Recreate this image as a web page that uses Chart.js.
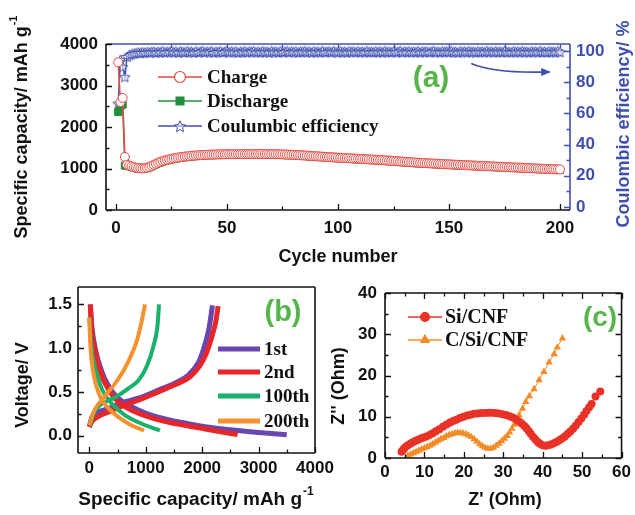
<!DOCTYPE html>
<html>
<head>
<meta charset="utf-8">
<script src="https://cdn.jsdelivr.net/npm/chart.js@4.4.0/dist/chart.umd.min.js"></script>
<style>
  body { margin: 0; background: #fff; width: 635px; height: 515px; position: relative; overflow: hidden; }
  canvas { position: absolute; }
  #ca { left: 0; top: 0; }
  #cb { left: 0; top: 270px; }
  #cc { left: 330px; top: 270px; }
</style>
</head>
<body>
<canvas id="ca" width="635" height="270"></canvas>
<canvas id="cb" width="345" height="245"></canvas>
<canvas id="cc" width="305" height="245"></canvas>
<script>
// ---- (a) cycling ----
const cycles = Array.from({ length: 200 }, (_, i) => i + 1);
const charge = [
  3560, 2600, 2700, 1280, 1090, 1070, 1050, 1035, 1020, 1010,
  1005, 1002, 1008, 1020, 1040, 1065, 1090, 1115, 1140, 1160,
  1178, 1195, 1210, 1222, 1234, 1245, 1255, 1264, 1272, 1280,
  1287, 1293, 1299, 1304, 1309, 1313, 1317, 1321, 1324, 1327,
  1330, 1332, 1334, 1336, 1338, 1339, 1341, 1342, 1343, 1344,
  1345, 1346, 1346, 1347, 1347, 1348, 1348, 1348, 1349, 1349,
  1349, 1349, 1349, 1349, 1348, 1348, 1348, 1347, 1347, 1346,
  1345, 1344, 1343, 1342, 1340, 1338, 1336, 1334, 1331, 1328,
  1325, 1322, 1319, 1316, 1313, 1310, 1306, 1303, 1299, 1296,
  1292, 1289, 1285, 1282, 1278, 1275, 1271, 1268, 1264, 1261,
  1258, 1255, 1252, 1249, 1246, 1243, 1240, 1237, 1234, 1231,
  1228, 1225, 1222, 1219, 1216, 1213, 1210, 1207, 1204, 1200,
  1197, 1193, 1189, 1185, 1181, 1177, 1173, 1169, 1165, 1161,
  1157, 1154, 1150, 1147, 1143, 1140, 1137, 1134, 1131, 1128,
  1125, 1122, 1119, 1116, 1113, 1110, 1107, 1104, 1102, 1099,
  1096, 1094, 1091, 1089, 1086, 1084, 1081, 1079, 1076, 1074,
  1071, 1069, 1066, 1064, 1061, 1059, 1056, 1054, 1051, 1049,
  1046, 1044, 1041, 1039, 1036, 1034, 1031, 1029, 1026, 1024,
  1021, 1019, 1016, 1014, 1011, 1009, 1006, 1004, 1001, 999,
  996, 994, 991, 989, 987, 985, 983, 981, 979, 977
];
const discharge = [
  2360, 2500, 2540, 1070, 1065, 1058, 1038, 1022, 1008, 998,
  993, 991, 996, 1008, 1028, 1053, 1078, 1103, 1128, 1148,
  1166, 1183, 1198, 1210, 1222, 1233, 1243, 1252, 1260, 1268,
  1275, 1281, 1287, 1292, 1297, 1301, 1305, 1309, 1312, 1315,
  1318, 1320, 1322, 1324, 1326, 1327, 1329, 1330, 1331, 1332,
  1333, 1334, 1334, 1335, 1335, 1336, 1336, 1336, 1337, 1337,
  1337, 1337, 1337, 1337, 1336, 1336, 1336, 1335, 1335, 1334,
  1333, 1332, 1331, 1330, 1328, 1326, 1324, 1322, 1319, 1316,
  1313, 1310, 1307, 1304, 1301, 1298, 1294, 1291, 1287, 1284,
  1280, 1277, 1273, 1270, 1266, 1263, 1259, 1256, 1252, 1249,
  1246, 1243, 1240, 1237, 1234, 1231, 1228, 1225, 1222, 1219,
  1216, 1213, 1210, 1207, 1204, 1201, 1198, 1195, 1192, 1188,
  1185, 1181, 1177, 1173, 1169, 1165, 1161, 1157, 1153, 1149,
  1145, 1142, 1138, 1135, 1131, 1128, 1125, 1122, 1119, 1116,
  1113, 1110, 1107, 1104, 1101, 1098, 1095, 1092, 1090, 1087,
  1084, 1082, 1079, 1077, 1074, 1072, 1069, 1067, 1064, 1062,
  1059, 1057, 1054, 1052, 1049, 1047, 1044, 1042, 1039, 1037,
  1034, 1032, 1029, 1027, 1024, 1022, 1019, 1017, 1014, 1012,
  1009, 1007, 1004, 1002, 999, 997, 994, 992, 989, 987,
  984, 982, 979, 977, 975, 973, 971, 969, 967, 965
];
const coulombic = [
  66.5, 94.5, 90.0, 83.5, 96.5, 97.6, 98.2, 98.6, 98.9, 99.2,
  99.0, 99.4, 99.1, 99.6, 99.3, 99.5, 99.8, 99.2, 99.7, 99.4,
  100.1, 99.3, 99.8, 99.5, 100.2, 99.4, 99.9, 99.2, 100.0, 99.6,
  99.3, 100.1, 99.5, 99.8, 99.2, 100.0, 99.4, 99.7, 100.2, 99.3,
  99.9, 99.5, 100.1, 99.2, 99.8, 99.6, 100.0, 99.3, 99.7, 100.2,
  99.4, 99.9, 99.5, 100.0, 99.2, 99.8, 99.5, 100.1, 99.3, 99.9,
  99.6, 100.2, 99.4, 99.8, 99.3, 100.0, 99.5, 99.8, 99.2, 100.1,
  99.6, 99.9, 99.3, 100.0, 99.5, 99.7, 100.2, 99.4, 99.9, 99.5,
  100.0, 99.3, 99.8, 99.6, 100.1, 99.4, 99.9, 99.2, 100.0, 99.6,
  99.8, 99.3, 100.2, 99.5, 99.7, 99.9, 99.4, 100.1, 99.6, 99.3,
  100.0, 99.5, 99.8, 99.2, 100.1, 99.6, 99.9, 99.4, 100.0, 99.5,
  99.8, 99.3, 100.2, 99.6, 99.7, 99.4, 100.0, 99.5, 99.9, 99.3,
  100.1, 99.6, 99.8, 99.4, 100.0, 99.5, 99.7, 100.2, 99.3, 99.9,
  99.6, 100.0, 99.4, 99.8, 99.5, 100.1, 99.3, 99.9, 99.6, 100.0,
  99.4, 99.7, 100.2, 99.5, 99.8, 99.3, 100.0, 99.6, 99.9, 99.4,
  100.1, 99.5, 99.8, 99.2, 100.0, 99.6, 99.9, 99.4, 100.1, 99.5,
  99.7, 99.3, 100.0, 99.6, 99.8, 99.4, 100.2, 99.5, 99.9, 99.3,
  100.0, 99.6, 99.8, 99.4, 100.1, 99.5, 99.7, 99.3, 100.0, 99.6,
  99.9, 99.4, 100.1, 99.5, 99.8, 99.3, 100.0, 99.6, 99.9, 99.4,
  100.2, 99.5, 99.7, 99.3, 100.0, 99.6, 99.8, 99.4, 100.1, 99.5
];
const cycleTicks = [0, 50, 100, 150, 200];
const capTicks = [0, 1000, 2000, 3000, 4000];
const ceTicks = [0, 20, 40, 60, 80, 100];

// ---- (b) voltage profiles: [capacity, voltage] ----
const bLabels = ['1st', '2nd', '100th', '200th'];
const dis1st = [[18, 1.5], [45, 1.25], [118, 0.96], [223, 0.73], [330, 0.58], [488, 0.44], [694, 0.35], [1017, 0.25], [1340, 0.19], [1752, 0.135], [2046, 0.1], [2500, 0.065], [3000, 0.035], [3500, 0.01]];
const chg1st = [[0, 0.1], [47, 0.21], [165, 0.27], [341, 0.31], [635, 0.385], [929, 0.44], [1223, 0.52], [1517, 0.6], [1752, 0.69], [1929, 0.83], [2030, 1.0], [2120, 1.22], [2183, 1.49]];
const dis2nd = [[18, 1.5], [42, 1.22], [105, 0.96], [200, 0.72], [294, 0.58], [488, 0.4], [782, 0.28], [1282, 0.17], [2017, 0.08], [2350, 0.04], [2630, 0.01]];
const chg2nd = [[0, 0.1], [47, 0.16], [165, 0.22], [341, 0.27], [635, 0.35], [929, 0.42], [1223, 0.5], [1517, 0.58], [1780, 0.67], [1960, 0.8], [2080, 0.95], [2180, 1.15], [2240, 1.3], [2283, 1.48]];
const dis100th = [[0, 1.35], [40, 1.0], [106, 0.77], [194, 0.58], [282, 0.46], [420, 0.35], [635, 0.23], [929, 0.135], [1253, 0.058]];
const chg100th = [[18, 0.115], [76, 0.25], [194, 0.35], [341, 0.4], [517, 0.46], [694, 0.54], [870, 0.63], [1017, 0.79], [1135, 1.02], [1211, 1.27], [1235, 1.5]];
const dis200th = [[0, 1.35], [18, 1.04], [59, 0.77], [118, 0.58], [212, 0.42], [341, 0.31], [517, 0.21], [753, 0.115], [970, 0.058]];
const chg200th = [[0, 0.115], [76, 0.27], [194, 0.385], [341, 0.5], [517, 0.65], [694, 0.85], [841, 1.08], [929, 1.31], [988, 1.5]];
const qTicks = [0, 1000, 2000, 3000, 4000];
const vTicks = [0, 0.5, 1.0, 1.5];

// ---- (c) Nyquist: [Z', Z''] ----
const cLabels = ['Si/CNF', 'C/Si/CNF'];
const siCNF = [
  [4.2, 1.5], [4.6, 2.0], [5.0, 2.5], [5.5, 2.9], [6.0, 3.2], [6.6, 3.6], [7.2, 3.9], [7.8, 4.2], [8.4, 4.4],
  [9.1, 4.7], [9.8, 5.0], [10.5, 5.2], [11.3, 5.6], [12.1, 6.0], [12.9, 6.5], [13.8, 7.0], [14.7, 7.6], [15.6, 8.1],
  [16.5, 8.6], [17.3, 9.0], [18.1, 9.3], [19.0, 9.7], [19.9, 10.0], [20.8, 10.3], [21.7, 10.5], [22.6, 10.7],
  [23.5, 10.8], [24.4, 10.9], [25.3, 10.9], [26.2, 11.0], [27.1, 11.0], [28.0, 10.9], [28.9, 10.8], [29.8, 10.6],
  [30.7, 10.4], [31.6, 10.1], [32.4, 9.8], [33.2, 9.4], [33.9, 8.9], [34.6, 8.4], [35.3, 7.8], [35.9, 7.2],
  [36.5, 6.5], [37.0, 5.8], [37.6, 5.1], [38.2, 4.4], [38.8, 3.8], [39.4, 3.4], [40.0, 3.1], [40.7, 3.0],
  [41.4, 3.1], [42.1, 3.3], [42.8, 3.6], [43.5, 3.9], [44.2, 4.3], [44.9, 4.7], [45.6, 5.2], [46.3, 5.8],
  [47.0, 6.4], [47.7, 7.1], [48.4, 7.9], [49.1, 8.7], [49.8, 9.6], [50.5, 10.5], [51.1, 11.4], [51.8, 12.3],
  [52.4, 13.1], [53.4, 14.9], [54.6, 16.1]
];
const cSiCNF = [
  [5.8, 0.6], [6.5, 0.9], [7.2, 1.2], [7.9, 1.5], [8.6, 1.8], [9.3, 2.1], [10.0, 2.4], [10.7, 2.7], [11.4, 3.0],
  [12.1, 3.4], [12.8, 3.8], [13.5, 4.2], [14.2, 4.6], [14.9, 4.9], [15.6, 5.3], [16.3, 5.6], [17.0, 5.8],
  [17.7, 6.0], [18.4, 6.1], [19.1, 6.1], [19.8, 6.0], [20.5, 5.8], [21.2, 5.5], [21.9, 5.1], [22.6, 4.6],
  [23.3, 4.0], [24.0, 3.4], [24.7, 2.9], [25.4, 2.5], [26.1, 2.3], [26.8, 2.3], [27.5, 2.5], [28.2, 3.0],
  [28.9, 3.5], [29.6, 4.1], [30.3, 4.7], [31.0, 5.4], [31.6, 6.2], [32.2, 7.1], [32.8, 8.1], [33.4, 9.2],
  [34.0, 10.4], [34.9, 12.0], [35.7, 13.6], [36.6, 15.0], [37.8, 16.7], [39.1, 18.9], [40.3, 20.9],
  [41.6, 23.2], [42.9, 25.2], [43.7, 26.8], [45.0, 29.0]
];
const zreTicks = [0, 10, 20, 30, 40, 50, 60];
const zimTicks = [0, 10, 20, 30, 40];

// ---- styles ----
Chart.defaults.font.family = '"Liberation Sans", Arial, sans-serif';
Chart.defaults.font.weight = 'bold';
Chart.defaults.font.size = 17;
Chart.defaults.color = '#111';
Chart.defaults.animation = false;

const SANS = '"Liberation Sans", Arial, sans-serif';
const SERIF = '"Liberation Serif", "Times New Roman", serif';
const BLUE = '#3f4fae';
const TAG = '#55b54a';

const pts = (xs, ys) => xs.map((x, i) => ({ x: x, y: ys[i] }));
const pairs = a => a.map(p => ({ x: p[0], y: p[1] }));
const range = (a, b, s) => { const r = []; for (let v = a; v <= b + 1e-9; v += s) r.push(+v.toFixed(4)); return r; };

function starImage(r, color) {
  const c = document.createElement('canvas');
  const s = Math.ceil(r * 2 + 4);
  c.width = c.height = s;
  const g = c.getContext('2d');
  g.translate(s / 2, s / 2 + 0.8);
  g.beginPath();
  for (let i = 0; i < 10; i++) {
    const a = -Math.PI / 2 + i * Math.PI / 5;
    const rr = i % 2 ? r * 0.45 : r;
    g.lineTo(rr * Math.cos(a), rr * Math.sin(a));
  }
  g.closePath();
  g.fillStyle = 'rgba(255,255,255,0.5)';
  g.fill();
  g.strokeStyle = color;
  g.lineWidth = 1;
  g.stroke();
  return c;
}
const star = starImage(5.5, BLUE);
const starBig = starImage(6, BLUE);

function linScale(min, max, ticks, opts) {
  return Object.assign({
    type: 'linear', min: min, max: max,
    grid: { display: false, drawTicks: false },
    border: { display: false },
    ticks: { autoSkip: false, maxRotation: 0, padding: 6, callback: v => String(v) },
    afterBuildTicks: s => { s.ticks = ticks.map(v => ({ value: v })); }
  }, opts);
}

function tickMarks(chart, id, values, len, sides, color) {
  const s = chart.scales[id], a = chart.chartArea, ctx = chart.ctx;
  ctx.save();
  ctx.strokeStyle = color;
  ctx.lineWidth = 1.3;
  ctx.beginPath();
  values.forEach(v => {
    const p = Math.round(s.getPixelForValue(v)) + 0.5;
    sides.forEach(side => {
      if (side === 'bottom') { ctx.moveTo(p, a.bottom); ctx.lineTo(p, a.bottom - len); }
      if (side === 'top') { ctx.moveTo(p, a.top); ctx.lineTo(p, a.top + len); }
      if (side === 'left') { ctx.moveTo(a.left, p); ctx.lineTo(a.left + len, p); }
      if (side === 'right') { ctx.moveTo(a.right, p); ctx.lineTo(a.right - len, p); }
    });
  });
  ctx.stroke();
  ctx.restore();
}

function frame(chart, colors) {
  const a = chart.chartArea, ctx = chart.ctx;
  const seg = (c, x1, y1, x2, y2) => { ctx.strokeStyle = c; ctx.beginPath(); ctx.moveTo(x1, y1); ctx.lineTo(x2, y2); ctx.stroke(); };
  ctx.save();
  ctx.lineWidth = 1.6;
  seg(colors.top, a.left, a.top, a.right, a.top);
  seg(colors.right, a.right, a.top, a.right, a.bottom);
  seg(colors.bottom, a.left, a.bottom, a.right, a.bottom);
  seg(colors.left, a.left, a.top, a.left, a.bottom);
  ctx.restore();
}

function title(ctx, x, y, rot, text, sup, size, color) {
  ctx.save();
  ctx.translate(x, y);
  ctx.rotate(rot);
  ctx.fillStyle = color;
  ctx.textBaseline = 'middle';
  ctx.textAlign = 'left';
  const f = 'bold ' + size + 'px ' + SANS;
  const fs = 'bold ' + Math.round(size * 0.62) + 'px ' + SANS;
  ctx.font = f;
  const w1 = ctx.measureText(text).width;
  ctx.font = fs;
  const w2 = sup ? ctx.measureText(sup).width + 1 : 0;
  const x0 = -(w1 + w2) / 2;
  ctx.font = f;
  ctx.fillText(text, x0, 0);
  if (sup) { ctx.font = fs; ctx.fillText(sup, x0 + w1 + 1, -size * 0.45); }
  ctx.restore();
}

function tag(ctx, text, x, y, size) {
  ctx.save();
  ctx.font = 'bold ' + size + 'px ' + SANS;
  ctx.fillStyle = TAG;
  ctx.textAlign = 'center';
  ctx.textBaseline = 'middle';
  ctx.fillText(text, x, y);
  ctx.restore();
}

// legend row: line + optional marker + serif text
function legendRow(ctx, ds, x1, x2, y, tx, size, lw) {
  ctx.save();
  ctx.strokeStyle = ds.borderColor;
  ctx.lineWidth = lw;
  ctx.beginPath(); ctx.moveTo(x1, y); ctx.lineTo(x2, y); ctx.stroke();
  if (ds.pointStyle && ds.legendRadius) {
    ctx.fillStyle = ds.pointBackgroundColor;
    ctx.strokeStyle = ds.pointBorderColor;
    ctx.lineWidth = 1.2;
    Chart.helpers.drawPoint(ctx, { pointStyle: ds.legendStyle || ds.pointStyle, radius: ds.legendRadius, rotation: 0, borderWidth: 1.2 }, (x1 + x2) / 2, y);
  }
  ctx.fillStyle = '#111';
  ctx.font = 'bold ' + size + 'px ' + SERIF;
  ctx.textBaseline = 'middle';
  ctx.fillText(ds.label, tx, y + 1);
  ctx.restore();
}

// ================= panel (a) =================
new Chart(document.getElementById('ca'), {
  type: 'line',
  data: {
    datasets: [
      {
        label: 'Charge', data: pts(cycles, charge), yAxisID: 'y',
        borderColor: '#e8473f', borderWidth: 1.5,
        pointStyle: 'circle', pointRadius: 4.5, pointBorderWidth: 1,
        pointBackgroundColor: '#fff', pointBorderColor: '#e8473f', legendRadius: 5.5
      },
      {
        label: 'Discharge', data: pts(cycles, discharge), yAxisID: 'y',
        borderColor: '#1f8f3c', borderWidth: 1.5,
        pointStyle: 'rect', pointRadius: 5, pointBorderWidth: 1,
        pointBackgroundColor: '#1f8f3c', pointBorderColor: '#1f8f3c', legendRadius: 5.5
      },
      {
        label: 'Coulumbic efficiency', data: pts(cycles, coulombic), yAxisID: 'y1',
        borderColor: BLUE, borderWidth: 1.5,
        pointStyle: star, pointRadius: 5, legendStyle: starBig,
        pointBackgroundColor: BLUE, pointBorderColor: BLUE, legendRadius: 6
      }
    ]
  },
  options: {
    responsive: false,
    layout: { padding: { top: 44, left: 0, right: 0, bottom: 0 } },
    plugins: { legend: { display: false }, tooltip: { enabled: false } },
    scales: {
      x: linScale(-4.5, 204.5, cycleTicks, { ticks: { autoSkip: false, maxRotation: 0, padding: 8, color: '#111', font: { size: 17 } }, afterFit: s => { s.height = 60; } }),
      y: linScale(0, 4000, capTicks, { position: 'left', ticks: { autoSkip: false, padding: 8, color: '#111', callback: v => String(v) }, afterFit: s => { s.width = 106; } }),
      y1: linScale(-2, 104.5, ceTicks, { position: 'right', ticks: { autoSkip: false, padding: 6, color: BLUE, callback: v => String(v) }, afterFit: s => { s.width = 65; } })
    }
  },
  plugins: [{
    id: 'decorA',
    afterDraw(chart) {
      const ctx = chart.ctx, a = chart.chartArea;
      frame(chart, { top: BLUE, right: BLUE, bottom: '#111', left: '#111' });
      tickMarks(chart, 'x', range(0, 200, 50), 6, ['bottom'], '#111');
      tickMarks(chart, 'x', range(25, 175, 50), 3.5, ['bottom'], '#111');
      tickMarks(chart, 'x', range(25, 200, 25), 4, ['top'], BLUE);
      tickMarks(chart, 'y', range(0, 4000, 1000), 6, ['left'], '#111');
      tickMarks(chart, 'y', range(500, 3500, 1000), 3.5, ['left'], '#111');
      tickMarks(chart, 'y1', range(0, 100, 20), 6, ['right'], BLUE);
      tickMarks(chart, 'y1', range(10, 90, 20), 3.5, ['right'], BLUE);

      // arrow pointing to the right axis
      const xs = chart.scales.x, ys = chart.scales.y1;
      const x0 = xs.getPixelForValue(160), y0 = ys.getPixelForValue(92);
      const x1 = xs.getPixelForValue(196), y1 = ys.getPixelForValue(86.5);
      ctx.save();
      ctx.strokeStyle = BLUE; ctx.fillStyle = BLUE; ctx.lineWidth = 1.8;
      ctx.beginPath(); ctx.moveTo(x0, y0);
      ctx.quadraticCurveTo(x0 + 22, y1 + 1, x1 - 8, y1);
      ctx.stroke();
      ctx.beginPath(); ctx.moveTo(x1, y1); ctx.lineTo(x1 - 10, y1 - 4); ctx.lineTo(x1 - 10, y1 + 4); ctx.closePath(); ctx.fill();
      ctx.restore();

      const ds = chart.data.datasets;
      [77, 101, 126].forEach((y, i) => legendRow(ctx, ds[i], 158, 202, y, 207, 19, 1.5));

      tag(ctx, '(a)', 431, 79, 30);
      title(ctx, 22, 127, -Math.PI / 2, 'Specific capacity/ mAh g', '-1', 18, '#111');
      title(ctx, 624, 124, -Math.PI / 2, 'Coulombic efficiency/ %', '', 18, BLUE);
      title(ctx, (a.left + a.right) / 2, 257, 0, 'Cycle number', '', 18, '#111');
    }
  }]
});

// ================= panel (b) =================
const bColors = ['#6848b0', '#e8262a', '#18b06a', '#f5922f'];
const bWidths = [5, 5, 4, 4];
const bCurves = [[dis1st, chg1st], [dis2nd, chg2nd], [dis100th, chg100th], [dis200th, chg200th]];
const bSets = [];
bCurves.forEach((pair, i) => {
  pair.forEach((curve, j) => {
    bSets.push({
      label: bLabels[i], data: pairs(curve), borderColor: bColors[i], borderWidth: bWidths[i],
      pointRadius: 0, cubicInterpolationMode: 'monotone', order: 4 - i, legend: j === 1
    });
  });
});

new Chart(document.getElementById('cb'), {
  type: 'line',
  data: { datasets: bSets },
  options: {
    responsive: false,
    layout: { padding: { top: 17, left: 0, right: 30, bottom: 0 } },
    plugins: { legend: { display: false }, tooltip: { enabled: false } },
    scales: {
      x: linScale(-200, 4000, qTicks, { ticks: { autoSkip: false, maxRotation: 0, padding: 5, callback: v => String(v) }, afterFit: s => { s.height = 62; } }),
      y: linScale(-0.2, 1.7, vTicks, { ticks: { autoSkip: false, padding: 6, callback: v => v.toFixed(1) }, afterFit: s => { s.width = 78; } })
    }
  },
  plugins: [{
    id: 'decorB',
    afterDraw(chart) {
      const ctx = chart.ctx;
      frame(chart, { top: '#111', right: '#111', bottom: '#111', left: '#111' });
      tickMarks(chart, 'x', range(0, 4000, 1000), 6, ['bottom'], '#111');
      tickMarks(chart, 'x', range(500, 3500, 1000), 3.5, ['bottom'], '#111');
      tickMarks(chart, 'y', range(0, 1.5, 0.5), 6, ['left'], '#111');
      tickMarks(chart, 'y', range(0.25, 1.25, 0.5), 3.5, ['left'], '#111');
      const legendSets = chart.data.datasets.filter(d => d.legend);
      [79, 102, 126, 151].forEach((y, i) => legendRow(ctx, legendSets[i], 218, 260, y, 264, 19, 5));
      tag(ctx, '(b)', 283, 43, 29);
      title(ctx, 23, 115, -Math.PI / 2, 'Voltage/ V', '', 18, '#111');
      title(ctx, 196, 230, 0, 'Specific capacity/ mAh g', '-1', 19, '#111');
    }
  }]
});

// ================= panel (c) =================
new Chart(document.getElementById('cc'), {
  type: 'line',
  data: {
    datasets: [
      {
        label: cLabels[0], data: pairs(siCNF), borderColor: '#e83228', borderWidth: 1,
        pointStyle: 'circle', pointRadius: 4, pointBorderWidth: 0,
        pointBackgroundColor: '#e83228', pointBorderColor: '#e83228', legendRadius: 4.5
      },
      {
        label: cLabels[1], data: pairs(cSiCNF), borderColor: '#f28c28', borderWidth: 1,
        pointStyle: 'triangle', pointRadius: 4.3, pointBorderWidth: 0,
        pointBackgroundColor: '#f28c28', pointBorderColor: '#f28c28', legendRadius: 5
      }
    ]
  },
  options: {
    responsive: false,
    layout: { padding: { top: 23, left: 0, right: 12, bottom: 0 } },
    plugins: { legend: { display: false }, tooltip: { enabled: false } },
    scales: {
      x: linScale(0, 60, zreTicks, { ticks: { autoSkip: false, maxRotation: 0, padding: 4, callback: v => String(v) }, afterFit: s => { s.height = 57; } }),
      y: linScale(0, 40, zimTicks, { ticks: { autoSkip: false, padding: 8, callback: v => String(v) }, afterFit: s => { s.width = 55; } })
    }
  },
  plugins: [{
    id: 'decorC',
    afterDraw(chart) {
      const ctx = chart.ctx;
      frame(chart, { top: '#111', right: '#111', bottom: '#111', left: '#111' });
      tickMarks(chart, 'x', range(0, 60, 10), 6, ['bottom', 'top'], '#111');
      tickMarks(chart, 'x', range(5, 55, 10), 3.5, ['bottom', 'top'], '#111');
      tickMarks(chart, 'y', range(0, 40, 10), 6, ['left', 'right'], '#111');
      tickMarks(chart, 'y', range(5, 35, 10), 3.5, ['left', 'right'], '#111');
      const ds = chart.data.datasets;
      [47, 70].forEach((y, i) => legendRow(ctx, ds[i], 78, 112, y, 115, 20, 1.5));
      tag(ctx, '(c)', 270, 48, 28);
      title(ctx, 9, 116, -Math.PI / 2, "Z'' (Ohm)", '', 18, '#111');
      title(ctx, 175, 230, 0, "Z' (Ohm)", '', 18, '#111');
    }
  }]
});
</script>
</body>
</html>
